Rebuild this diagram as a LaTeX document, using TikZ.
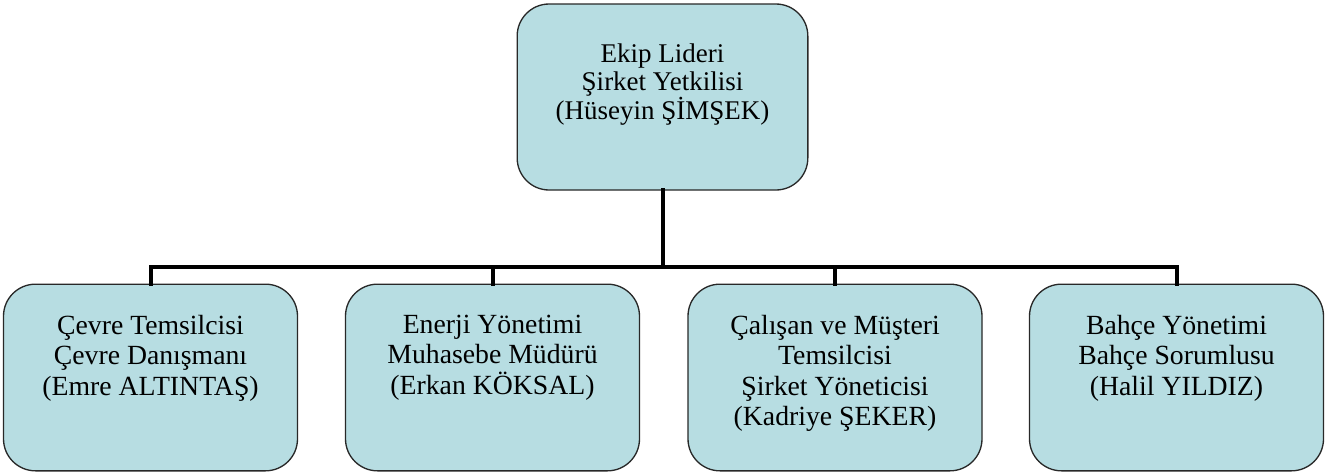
\documentclass[tikz,border=0pt]{standalone}
\usepackage{fontspec}
\setmainfont{Liberation Serif}
\usetikzlibrary{calc}

\definecolor{boxfill}{RGB}{183,221,226}
\definecolor{boxedge}{RGB}{40,40,40}

\begin{document}
\begin{tikzpicture}[x=0.75pt, y=-0.75pt,
	member/.style={rectangle, rounded corners=24pt, draw=boxedge, line width=1pt,
	fill=boxfill, minimum width=220.5pt, minimum height=140pt, outer sep=0pt, inner sep=0pt},
	lbl/.style={anchor=north, align=center, inner sep=0pt, yshift=-23pt,
	font=\fontsize{20.8}{22.8}\selectfont},
	conn/.style={line width=3pt, line cap=rect}]

\useasboundingbox (0,0) rectangle (1339,472);

\node[member, minimum width=218pt, minimum height=139.5pt,
	label={[lbl, yshift=-6.5pt, font=\fontsize{20.25}{21.4}\selectfont]north:Ekip Lideri\\Şirket Yetkilisi\\(Hüseyin ŞİMŞEK)}]
	at (662.5,97) (lead) {};

\node[member, label={[lbl]north:Çevre Temsilcisi\\Çevre Danışmanı\\(Emre ALTINTAŞ)}]
	at (150.5,377.5) (cevre) {};
\node[member, label={[lbl]north:Enerji Yönetimi\\Muhasebe Müdürü\\(Erkan KÖKSAL)}]
	at (492.5,377.5) (enerji) {};
\node[member, label={[lbl]north:Çalışan ve Müşteri\\Temsilcisi\\Şirket Yöneticisi\\(Kadriye ŞEKER)}]
	at (835,377.5) (calisan) {};
\node[member, label={[lbl]north:Bahçe Yönetimi\\Bahçe Sorumlusu\\(Halil YILDIZ)}]
	at (1176.5,377.5) (bahce) {};

\foreach \c in {cevre,enerji,calisan,bahce}
	\draw[conn] (lead.south) -- ++(0,77) -| (\c.north);
\end{tikzpicture}
\end{document}
